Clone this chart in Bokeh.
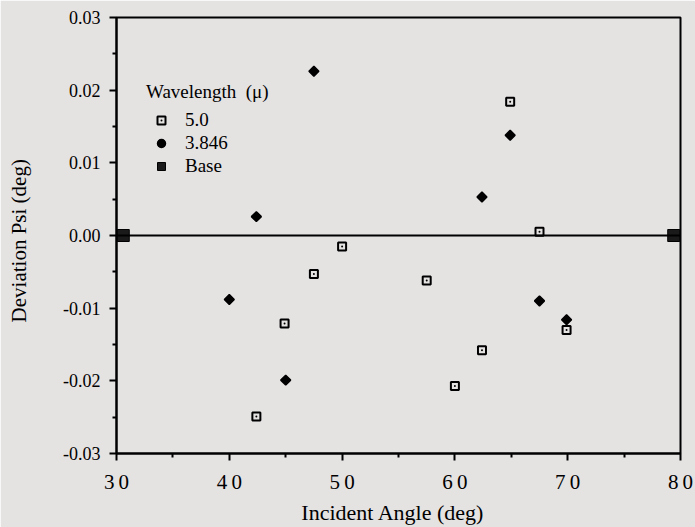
import math

from bokeh.embed import file_html
from bokeh.resources import INLINE
from bokeh.plotting import figure
from bokeh.models import (ColumnDataSource, Legend, LegendItem, Span,
                          FixedTicker, Range1d)

# Deviation of Psi versus incident angle, two wavelengths plus base line
angle_5_0 = [42.4, 44.9, 47.5, 50.0, 57.5, 60.0, 62.4, 64.9, 67.5, 69.9]
dev_5_0 = [-0.0249, -0.0121, -0.0053, -0.0015, -0.0062, -0.0207,
           -0.0158, 0.0184, 0.0005, -0.0130]

angle_3_846 = [40.0, 42.4, 45.0, 47.5, 62.4, 64.9, 67.5, 69.9]
dev_3_846 = [-0.0088, 0.0026, -0.0199, 0.0226, 0.0053, 0.0138,
             -0.0090, -0.0116]

angle_base = [30.6, 79.4]
dev_base = [0.0, 0.0]

x_ticks = [30, 40, 50, 60, 70, 80]
x_tick_labels = ["3\u20090", "4\u20090", "5\u20090", "6\u20090", "7\u20090", "8\u20090"]
y_ticks = [-0.03, -0.02, -0.01, 0.0, 0.01, 0.02, 0.03]
y_tick_labels = ["-0.03", "-0.02", "-0.01", "0.00", "0.01", "0.02", "0.03"]

FONT = "Liberation Serif"
BG = "#e5e2e2"

p = figure(width=695, height=527, output_backend="svg", toolbar_location=None,
           x_range=Range1d(30, 80), y_range=Range1d(-0.03, 0.03),
           min_border_left=116, min_border_right=15,
           min_border_top=17, min_border_bottom=74)
p.background_fill_color = BG
p.border_fill_color = BG
p.outline_line_color = "black"
p.outline_line_width = 2
p.grid.visible = False

# zero reference line
p.add_layout(Span(location=0, dimension="width", line_color="black",
                  line_width=2))

src5 = ColumnDataSource(dict(x=angle_5_0, y=dev_5_0))
src3 = ColumnDataSource(dict(x=angle_3_846, y=dev_3_846))
srcb = ColumnDataSource(dict(x=angle_base, y=dev_base))

r5 = p.scatter("x", "y", source=src5, marker="square_dot", size=8,
               fill_color="white", fill_alpha=0.0, line_color="black",
               line_width=2)
r3 = p.scatter("x", "y", source=src3, marker="square", size=7,
               angle=math.pi / 4, fill_color="black", line_color="black",
               line_width=1.5)
rb = p.scatter("x", "y", source=srcb, marker="square", size=12,
               fill_color="#1a1a1a", line_color="black")

# hidden key glyph for the 3.846 series (legend swatches ignore the angle)
r3_key = p.scatter("x", "y", source=src3, marker="circle", size=9,
                   fill_color="black", line_color="black", line_width=1.5,
                   visible=False)

# axes
for ax in (p.xaxis[0], p.yaxis[0]):
    ax.axis_line_width = 2
    ax.major_tick_line_width = 2
    ax.minor_tick_line_width = 2
    ax.major_tick_out = 7
    ax.major_tick_in = 0
    ax.minor_tick_out = 4
    ax.minor_tick_in = 0
    ax.major_label_text_font = FONT
    ax.major_label_text_color = "black"
    ax.axis_label_text_font = FONT
    ax.axis_label_text_font_style = "normal"
    ax.axis_label_text_color = "black"

p.xaxis.ticker = FixedTicker(ticks=x_ticks, minor_ticks=[35, 45, 55, 65, 75])
p.xaxis.major_label_overrides = dict(zip(x_ticks, x_tick_labels))
p.xaxis.major_label_text_font_size = "21px"
p.xaxis.axis_label = "Incident  Angle  (deg)"
p.xaxis.axis_label_text_font_size = "22px"
p.xaxis.major_label_standoff = 9
p.xaxis.axis_label_standoff = 3

p.yaxis.ticker = FixedTicker(ticks=y_ticks,
                             minor_ticks=[-0.025, -0.015, -0.005, 0.005, 0.015, 0.025])
p.yaxis.major_label_overrides = dict(zip(y_ticks, y_tick_labels))
p.yaxis.major_label_text_font_size = "18px"
p.yaxis.axis_label = "Deviation  Psi  (deg)"
p.yaxis.axis_label_text_font_size = "21px"
p.yaxis.major_label_standoff = 9
p.yaxis.axis_label_standoff = 29

legend = Legend(items=[
    LegendItem(label="5.0", renderers=[r5]),
    LegendItem(label="3.846", renderers=[r3_key]),
    LegendItem(label="Base", renderers=[rb]),
], location=(26, 272), title="Wavelength  (\u03bc)")
legend.title_text_font = FONT
legend.title_text_font_size = "19px"
legend.title_text_font_style = "normal"
legend.title_text_color = "black"
legend.label_text_font = FONT
legend.label_text_font_size = "19px"
legend.label_text_color = "black"
legend.background_fill_alpha = 0.0
legend.border_line_alpha = 0.0
legend.glyph_width = 30
legend.glyph_height = 20
legend.label_height = 20
legend.spacing = 1
legend.label_standoff = 9
legend.padding = 4
legend.margin = 0
legend.title_standoff = 6
p.add_layout(legend)

open("out.html", "w").write(file_html(p, INLINE))
